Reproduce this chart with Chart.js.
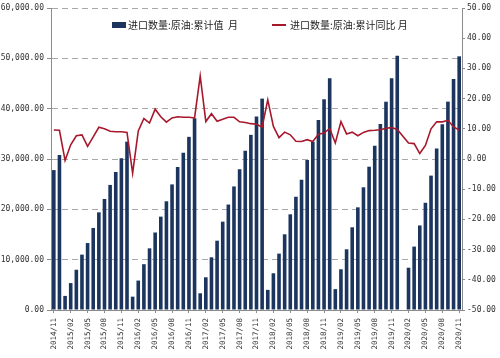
<!DOCTYPE html>
<html>
<head>
<meta charset="utf-8">
<script src="https://cdn.jsdelivr.net/npm/chart.js@4.4.1/dist/chart.umd.min.js"></script>
<style>
  html, body { margin: 0; padding: 0; background: #ffffff; }
  #wrap { position: relative; width: 500px; height: 358px; }
  #c { position: absolute; left: 0; top: 0; }
  .lg { position: absolute; font-family: "Noto Sans CJK SC", "Noto Sans", sans-serif; font-size: 10px; color: #222; white-space: pre; line-height: 12px; }
  .sw { position: absolute; }
</style>
</head>
<body>
<div id="wrap">
  <canvas id="c" width="500" height="358"></canvas>
  <div id="legend"></div>
</div>
<script>
const categories = [
  "2014/11","2014/12",
  "2015/01","2015/02","2015/03","2015/04","2015/05","2015/06","2015/07","2015/08","2015/09","2015/10","2015/11","2015/12",
  "2016/01","2016/02","2016/03","2016/04","2016/05","2016/06","2016/07","2016/08","2016/09","2016/10","2016/11","2016/12",
  "2017/01","2017/02","2017/03","2017/04","2017/05","2017/06","2017/07","2017/08","2017/09","2017/10","2017/11","2017/12",
  "2018/01","2018/02","2018/03","2018/04","2018/05","2018/06","2018/07","2018/08","2018/09","2018/10","2018/11","2018/12",
  "2019/01","2019/02","2019/03","2019/04","2019/05","2019/06","2019/07","2019/08","2019/09","2019/10","2019/11","2019/12",
  "2020/01","2020/02","2020/03","2020/04","2020/05","2020/06","2020/07","2020/08","2020/09","2020/10","2020/11"
];

const seriesNames = ["进口数量:原油:累计值  月", "进口数量:原油:累计同比 月"];

const importCumulative = [
  27800, 30800,
  2800, 5350, 8000, 11000, 13300, 16300, 19400, 22050, 24850, 27400, 30150, 33450,
  2650, 5850, 9100, 12250, 15400, 18550, 21600, 24950, 28400, 31250, 34400, 38100,
  3320, 6500, 10470, 13770, 17550, 20950, 24550, 27950, 31650, 34800, 38450, 42000,
  4000, 7300, 11200, 15040, 19010, 22500, 25900, 29800, 33450, 37750, 41870, 46050,
  4150, 8090, 12060, 16430, 20400, 24380, 28470, 32640, 36950, 41380, 46030, 50500,
  null, 8400, 12600, 16800, 21300, 26700, 32100, 36900, 41400, 45900, 50400
];

const yoyCumulative = [
  9.6, 9.5,
  -0.5, 4.7, 7.7, 8.0, 4.2, 7.3, 10.5, 10.0, 9.2, 9.0, 9.0, 8.8,
  -4.7, 9.3, 13.4, 11.9, 16.5, 14.0, 12.2, 13.6, 14.0, 13.8, 13.8, 13.6,
  27.5, 12.4, 15.0, 12.5, 13.2, 13.8, 13.8, 12.3, 12.1, 11.7, 11.5, 10.6,
  19.6, 10.8, 7.1, 8.9, 8.0, 5.9, 5.8, 6.4, 5.8, 8.2, 8.6, 10.1,
  5.3, 12.4, 8.3, 8.9, 7.7, 8.8, 9.4, 9.5, 9.7, 10.2, 10.4, 9.8,
  null, 5.3, 5.1, 1.8, 4.5, 10.0, 12.3, 12.3, 12.8, 10.6, 9.6
];

const leftTicks = [0, 10000, 20000, 30000, 40000, 50000, 60000];
const rightTicks = [-50, -40, -30, -20, -10, 0, 10, 20, 30, 40, 50];
const labelEvery = 3;

const BAR = "#1b355e";
const LINE = "#a8182c";
const AXIS = "#8c8c8c";
const TXT = "#333333";
const tickFont = { family: "DejaVu Sans Mono", size: 8 };

function fmtLeft(v) {
  return Number(v).toLocaleString("en-US", { minimumFractionDigits: 2, maximumFractionDigits: 2 });
}
function fmtRight(v) {
  return Number(v).toFixed(2);
}

const chart = new Chart(document.getElementById("c"), {
  data: {
    labels: categories,
    datasets: [
      {
        type: "line",
        label: seriesNames[1],
        data: yoyCumulative,
        yAxisID: "yR",
        borderColor: LINE,
        backgroundColor: LINE,
        borderWidth: 1.6,
        pointRadius: 0,
        tension: 0,
        spanGaps: true,
        order: 0
      },
      {
        type: "bar",
        label: seriesNames[0],
        data: importCumulative,
        yAxisID: "yL",
        backgroundColor: BAR,
        borderWidth: 0,
        categoryPercentage: 1,
        barPercentage: 0.64,
        order: 1
      }
    ]
  },
  options: {
    responsive: false,
    animation: false,
    devicePixelRatio: 1,
    layout: { padding: { top: 8, left: 0, right: 0, bottom: 0 } },
    plugins: { legend: { display: false }, tooltip: { enabled: false } },
    scales: {
      x: {
        offset: true,
        afterFit: s => { s.height = 48; },
        grid: {
          offset: false,
          drawOnChartArea: false,
          tickLength: 3,
          color: c => (c.index % labelEvery === 0 ? AXIS : "rgba(0,0,0,0)")
        },
        border: { color: AXIS, width: 1 },
        ticks: {
          autoSkip: false,
          minRotation: 90,
          maxRotation: 90,
          padding: 5,
          color: TXT,
          font: { family: "DejaVu Sans Mono", size: 7.5 },
          callback: (v, i) => (i % labelEvery === 0 ? categories[i] : "")
        }
      },
      yL: {
        position: "left",
        min: leftTicks[0],
        max: leftTicks[leftTicks.length - 1],
        afterFit: s => { s.width = 51; },
        afterBuildTicks: s => { s.ticks = leftTicks.map(v => ({ value: v })); },
        grid: { color: "#a8a8a8", lineWidth: 1, tickLength: 4, tickColor: AXIS },
        border: { color: AXIS, width: 1, dash: [6, 4] },
        ticks: { color: TXT, font: tickFont, padding: 3, callback: v => fmtLeft(v) }
      },
      yR: {
        position: "right",
        min: rightTicks[0],
        max: rightTicks[rightTicks.length - 1],
        afterFit: s => { s.width = 38; },
        afterBuildTicks: s => { s.ticks = rightTicks.map(v => ({ value: v })); },
        grid: { drawOnChartArea: false, tickLength: 3, color: AXIS },
        border: { color: AXIS, width: 1 },
        ticks: { color: TXT, font: tickFont, padding: 2, callback: v => fmtRight(v) }
      }
    }
  }
});

// Legend overlay built from the dataset labels
(function buildLegend() {
  const lg = document.getElementById("legend");
  const bars = chart.data.datasets[1];
  const line = chart.data.datasets[0];
  const items = [
    { ds: bars, sx: 112, tx: 128, kind: "box" },
    { ds: line, sx: 272, tx: 290, kind: "line" }
  ];
  items.forEach(it => {
    const sw = document.createElement("div");
    sw.className = "sw";
    if (it.kind === "box") {
      sw.style.cssText = `left:${it.sx}px;top:22px;width:14px;height:6px;background:${it.ds.backgroundColor};`;
    } else {
      sw.style.cssText = `left:${it.sx}px;top:24px;width:14px;height:2px;background:${it.ds.borderColor};`;
    }
    lg.appendChild(sw);
    const t = document.createElement("div");
    t.className = "lg";
    t.style.left = it.tx + "px";
    t.style.top = "19px";
    t.textContent = it.ds.label;
    lg.appendChild(t);
  });
})();
</script>
</body>
</html>
